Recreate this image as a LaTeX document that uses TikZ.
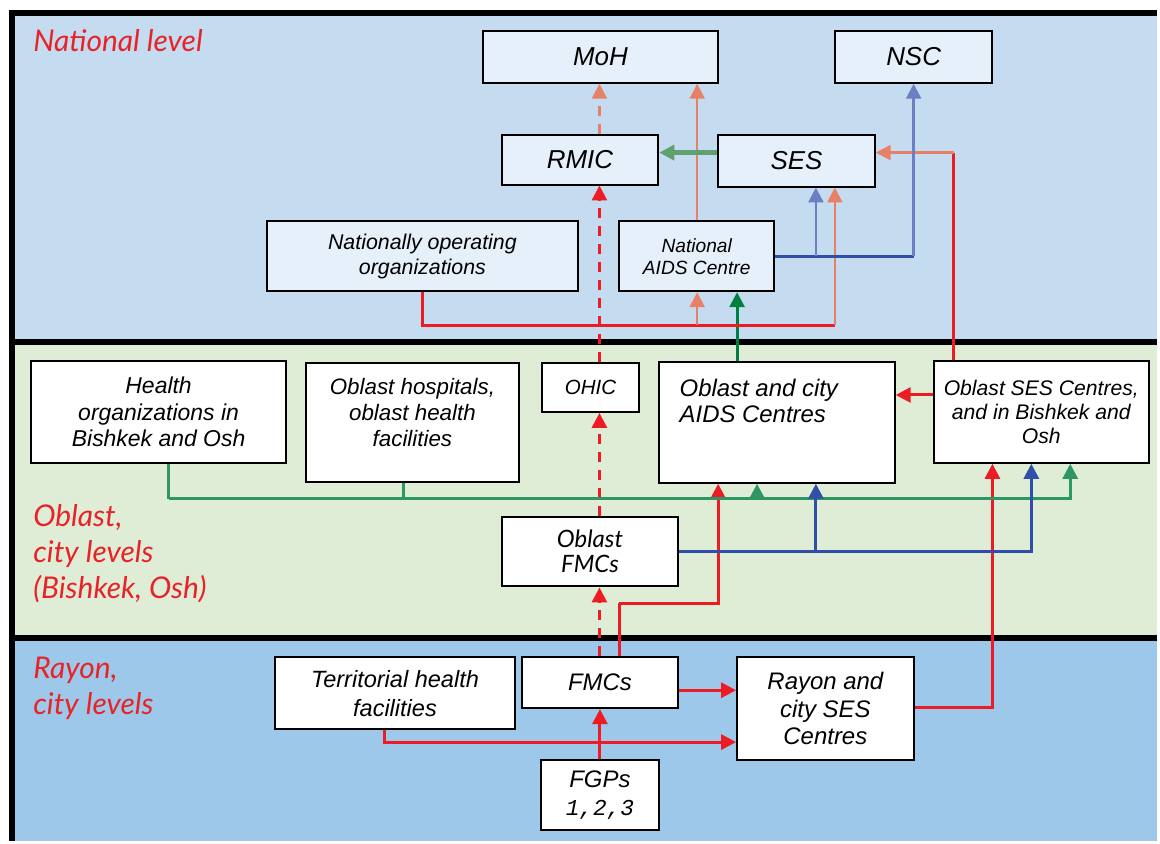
\documentclass[tikz,border=0pt]{standalone}
\usepackage{fontspec}
\setmainfont{Liberation Sans}
\newfontfamily\levelfont{Lato}
\newfontfamily\digitfont{Liberation Mono}
\usetikzlibrary{arrows.meta}
\definecolor{natband}{RGB}{197,220,240}
\definecolor{oblband}{RGB}{223,237,214}
\definecolor{rayband}{RGB}{158,200,233}
\definecolor{natboxc}{RGB}{230,240,250}
\definecolor{redc}{RGB}{237,28,36}
\definecolor{lvlred}{RGB}{232,35,40}
\definecolor{salmonc}{RGB}{232,128,104}
\definecolor{paleblue}{RGB}{108,126,196}
\definecolor{deepblue}{RGB}{48,80,168}
\definecolor{busgreen}{RGB}{46,150,100}
\definecolor{deepgreen}{RGB}{0,128,64}
\definecolor{sesgreen}{RGB}{96,160,112}

\begin{document}
\begin{tikzpicture}[x=0.5pt,y=-0.5pt,
  box/.style={draw,line width=1pt,fill=white,inner sep=0pt,align=center},
  natbox/.style={box,fill=natboxc},
  lvl/.style={text=lvlred,inner sep=0pt,align=left,font=\levelfont\itshape\fontsize{15}{18}\selectfont},
  redln/.style={draw=redc,line width=1.5pt},
  dashln/.style={redln,dash pattern=on 5pt off 4pt},
  salmonln/.style={draw=salmonc,line width=1.2pt},
  paleln/.style={draw=paleblue,line width=1.2pt},
  blueln/.style={draw=deepblue,line width=1.5pt},
  busln/.style={draw=busgreen,line width=1.5pt},
  arr/.style={-{Triangle[width=7.5pt,length=7.5pt]}}]
\fill[white] (0,0) rectangle (1160,843);
\fill[natband] (12,13) rectangle (1160,343);
\fill[oblband] (12,343) rectangle (1160,640);
\fill[rayband] (12,640) rectangle (1160,843);
\draw[line width=3pt] (12,843) -- (12,13) -- (1160,13);
\draw[line width=3pt] (12,343) -- (1160,343);
\draw[line width=3pt] (12,640) -- (1160,640);

\node[lvl,anchor=base west] (natlvl) at (33,52) {National level};
\node[lvl,anchor=base west] (obllvl) at (33,600) {Oblast,\\city levels\\(Bishkek, Osh)};
\node[lvl,anchor=base west] (raylvl) at (33,716) {Rayon,\\city levels};

\node[natbox,minimum width=118pt,minimum height=26pt,font=\itshape\fontsize{13}{15}\selectfont] (moh) at (602,57) {MoH};
\node[natbox,minimum width=79pt,minimum height=26pt,font=\itshape\fontsize{13}{15}\selectfont] (nsc) at (916,57) {NSC};
\node[natbox,minimum width=78.5pt,minimum height=25pt,font=\itshape\fontsize{13}{15}\selectfont] (rmic) at (581.5,160) {RMIC};
\node[natbox,minimum width=78.5pt,minimum height=26pt,font=\itshape\fontsize{13}{15}\selectfont] (ses) at (798.5,161) {SES};
\node[natbox,minimum width=155.5pt,minimum height=35pt,font=\itshape\fontsize{10.7}{12.5}\selectfont] (natorg) at (423.5,257) {Nationally operating\\organizations};
\node[natbox,minimum width=77.5pt,minimum height=35pt,font=\itshape\fontsize{9.6}{11}\selectfont] (nac) at (698.5,257) {National\\AIDS Centre};

\node[box,minimum width=128pt,minimum height=51pt,font=\itshape\fontsize{11.5}{13.3}\selectfont] (healthorg) at (159,413) {Health\\organizations in\\Bishkek and Osh};
\node[box,minimum width=106.5pt,minimum height=59.5pt] (oblhosp) at (413.5,423.5) {};
\node[inner sep=0pt,align=center,font=\itshape\fontsize{11.2}{13}\selectfont] (oblhosplbl) at (413.5,414) {Oblast hospitals,\\oblast health\\facilities};
\node[box,minimum width=49pt,minimum height=24.5pt,font=\itshape\fontsize{10.3}{12}\selectfont] (ohic) at (592,388.5) {OHIC};
\node[box,minimum width=118pt,minimum height=60.5pt] (oblaids) at (779,423.5) {};
\node[inner sep=0pt,anchor=west,align=left,font=\itshape\fontsize{12}{13}\selectfont] (oblaidslbl) at (681,402) {Oblast and city\\AIDS Centres};
\node[box,minimum width=108pt,minimum height=51pt,font=\itshape\fontsize{10.6}{12.25}\selectfont] (oblses) at (1044,413) {Oblast SES Centres,\\and in Bishkek and\\Osh};
\node[box,minimum width=88.5pt,minimum height=35pt,font=\levelfont\itshape\fontsize{12}{12.5}\selectfont] (oblfmc) at (591.5,553) {Oblast\\FMCs};

\node[box,minimum width=120pt,minimum height=36pt,font=\itshape\fontsize{11.8}{14.5}\selectfont] (terr) at (396,695) {Territorial health\\facilities};
\node[box,minimum width=78.5pt,minimum height=25.5pt,font=\itshape\fontsize{12}{14}\selectfont] (fmc) at (601.5,684.5) {FMCs};
\node[box,minimum width=88.5pt,minimum height=51.5pt,font=\itshape\fontsize{12}{13.75}\selectfont] (rayses) at (827.5,710.5) {Rayon and\\city SES\\Centres};
\node[box,minimum width=59.5pt,minimum height=35pt,font=\itshape\fontsize{12}{14}\selectfont] (fgp) at (601.5,797) {FGPs\\{\digitfont\itshape\fontsize{11.4}{14}\selectfont 1,2,3}};

\draw[redln,arr] (fgp.north) -- (fmc.south);
\draw[redln,arr] (fmc.east |- 0,692) -- (rayses.west |- 0,692);
\draw[redln,arr] (terr.south -| 385,0) |- (rayses.west |- 0,744);
\draw[redln,arr] (rayses.east |- 0,709) -| (oblses.south -| 995,0);
\draw[dashln,arr] (fmc.north -| 601,0) -- (oblfmc.south -| 601,0);
\draw[dashln,arr] (oblfmc.north -| 601,0) -- (ohic.south -| 601,0);
\draw[dashln,arr] (ohic.north -| 601,0) -- (rmic.south -| 601,0);
\draw[salmonln,dash pattern=on 5pt off 4pt,arr] (rmic.north -| 601,0) -- (moh.south -| 601,0);
\draw[redln] (fmc.north -| 621,0) -- (621,605);
\draw[redln,arr] (621,605) -| (oblaids.south -| 720,0);
\draw[redln,arr] (oblses.west |- 0,396) -- (oblaids.east |- 0,396);
\draw[redln] (oblses.north -| 956,0) -- (956,153);
\draw[salmonln,arr] (956,153) -- (ses.east |- 0,153);

\draw[busln] (healthorg.south -| 169,0) -- (169,500);
\draw[busln,arr] (169,500) -| (oblses.south -| 1073,0);
\draw[busln] (oblhosp.south -| 405,0) -- (405,500);
\draw[busln,arr] (759,500) -- (oblaids.south -| 759,0);
\draw[blueln,arr] (oblfmc.east |- 0,553) -| (oblses.south -| 1034,0);
\draw[blueln,arr] (818,553) -- (oblaids.south -| 818,0);
\draw[draw=deepgreen,line width=1.5pt,arr] (oblaids.north -| 739,0) -- (nac.south -| 739,0);

\draw[redln] (natorg.south -| 424,0) |- (837,326);
\draw[salmonln,arr] (837,326) -- (ses.south -| 837,0);
\draw[salmonln,arr] (699,326) -- (nac.south -| 699,0);
\draw[salmonln,arr] (nac.north -| 699,0) -- (moh.south -| 699,0);
\draw[blueln] (nac.east |- 0,257) -- (916,257);
\draw[paleln,arr] (916,257) -- (nsc.south -| 916,0);
\draw[paleln,arr] (818,257) -- (ses.south -| 818,0);
\draw[draw=sesgreen,line width=2.5pt,arr] (ses.west |- 0,153) -- (rmic.east |- 0,153);
\end{tikzpicture}
\end{document}
